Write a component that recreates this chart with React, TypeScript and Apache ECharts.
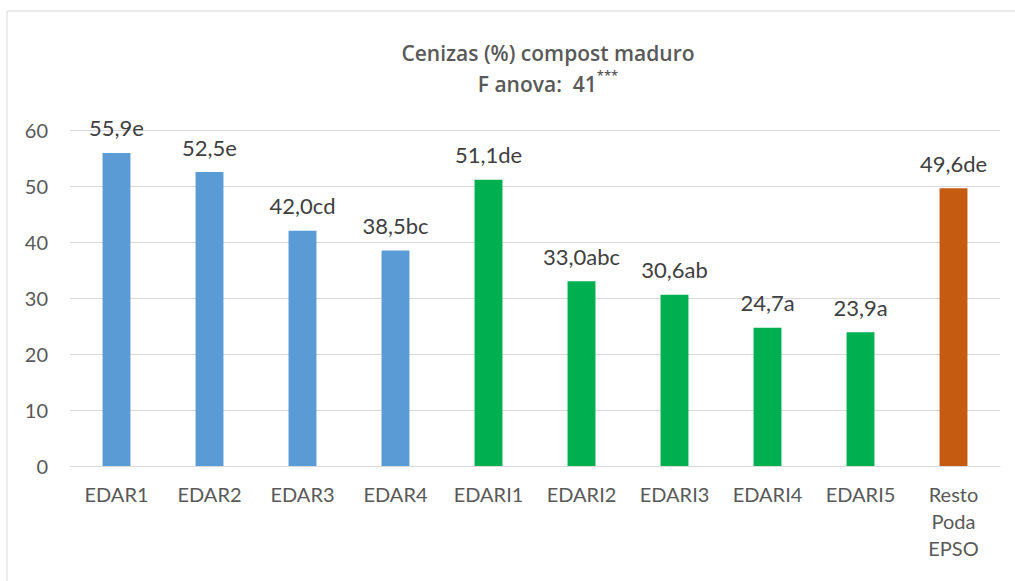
import React, { useEffect, useRef } from "react";
import * as echarts from "echarts";

const categories = ["EDAR1", "EDAR2", "EDAR3", "EDAR4", "EDARI1", "EDARI2", "EDARI3", "EDARI4", "EDARI5", "Resto\nPoda\nEPSO"];
const values = [55.9, 52.5, 42.0, 38.5, 51.1, 33.0, 30.6, 24.7, 23.9, 49.6];
const letters = ["e", "e", "cd", "bc", "de", "abc", "ab", "a", "a", "de"];
const barColors = ["#5B9BD5", "#5B9BD5", "#5B9BD5", "#5B9BD5", "#00B050", "#00B050", "#00B050", "#00B050", "#00B050", "#C55A11"];
const titleLines = ["Cenizas (%) compost maduro", "F anova:  41", "***"];
const yTicks = { min: 0, max: 60, interval: 10 };

const FONT = "Lato, 'Open Sans', sans-serif";
const TFONT = "'Open Sans', Lato, sans-serif";

export default function App() {
  const ref = useRef<HTMLDivElement>(null);
  useEffect(() => {
    if (!ref.current) return;
    const chart = echarts.init(ref.current, null, { renderer: "svg" });
    chart.setOption({
      animation: false,
      backgroundColor: "#ffffff",
      graphic: [
        {
          type: "rect",
          shape: { x: 7, y: 11, width: 1020, height: 580 },
          style: { fill: "none", stroke: "#d9d9d9", lineWidth: 1 },
          silent: true,
        },
        {
          type: "text",
          x: 548,
          y: 37,
          silent: true,
          style: {
            text: `{t|${titleLines[0]}}\n{t|${titleLines[1]}}{s|${titleLines[2]}}`,
            align: "center",
            verticalAlign: "top",
            rich: {
              t: { fontFamily: TFONT, fontSize: 21, fontWeight: 600, fill: "#595959", lineHeight: 31, align: "center" },
              s: { fontFamily: TFONT, fontSize: 13, fontWeight: 600, fill: "#595959", lineHeight: 31, verticalAlign: "top", padding: [0, 0, 10, 0] },
            },
          },
        },
      ],
      grid: { left: 70, right: 15, top: 130, bottom: 115, containLabel: false },
      xAxis: {
        type: "category",
        data: categories,
        axisLine: { lineStyle: { color: "#d9d9d9", width: 1 } },
        axisTick: { show: false },
        axisLabel: { color: "#595959", fontFamily: FONT, fontSize: 20, margin: 14, lineHeight: 27, interval: 0 },
      },
      yAxis: {
        type: "value",
        min: yTicks.min,
        max: yTicks.max,
        interval: yTicks.interval,
        axisLine: { show: false },
        axisTick: { show: false },
        splitLine: { lineStyle: { color: "#d9d9d9", width: 1 } },
        axisLabel: { color: "#595959", fontFamily: FONT, fontSize: 20, margin: 22 },
      },
      series: [
        {
          type: "bar",
          barWidth: "30%",
          data: values.map((v, i) => ({ value: v, itemStyle: { color: barColors[i] } })),
          label: {
            show: true,
            position: "top",
            distance: 14,
            color: "#404040",
            fontFamily: FONT,
            fontSize: 22,
            formatter: (p: any) => p.value.toFixed(1).replace(".", ",") + letters[p.dataIndex],
          },
        },
      ],
    });
    return () => chart.dispose();
  }, []);
  return <div ref={ref} style={{ position: "absolute", left: 0, top: 0, width: 1015, height: 581 }} />;
}
